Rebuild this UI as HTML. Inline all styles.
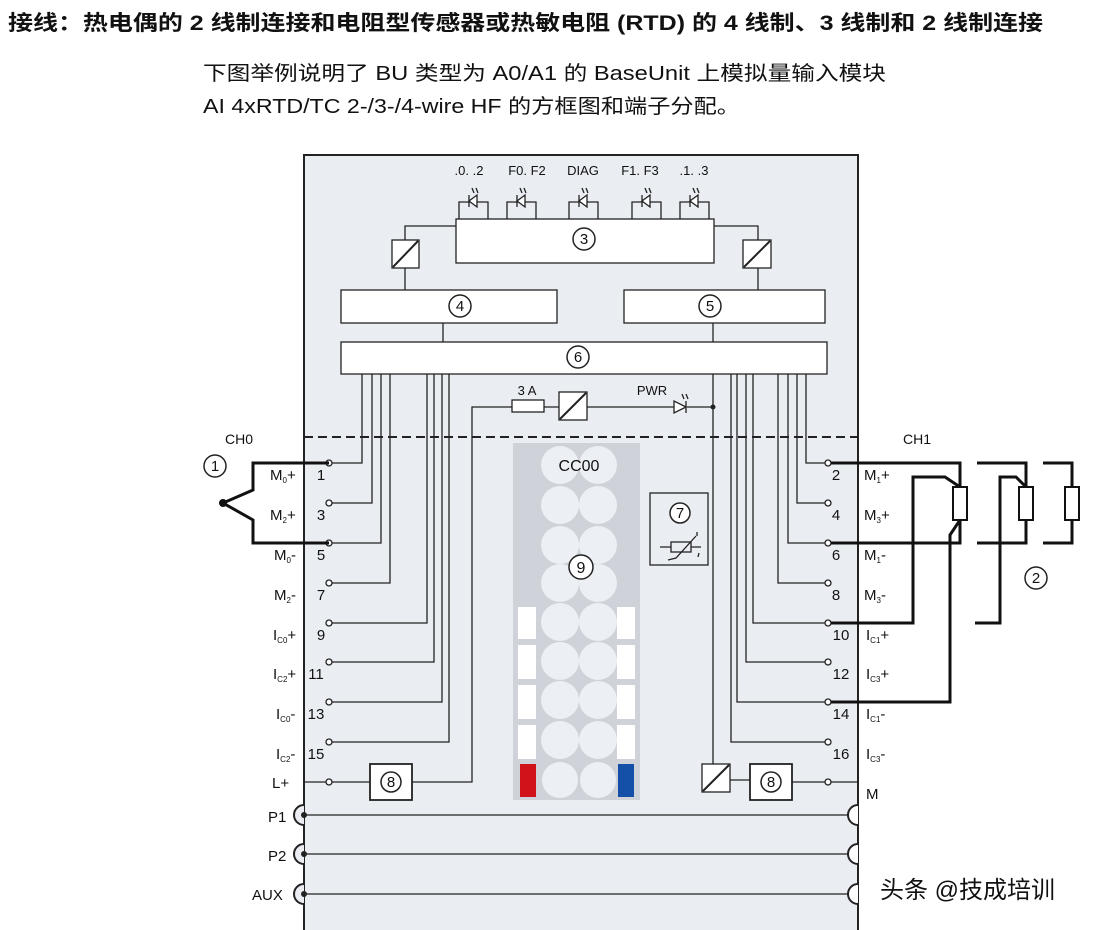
<!DOCTYPE html>
<html><head><meta charset="utf-8"><style>
html,body{margin:0;padding:0;background:#fff;}
svg{display:block;}
text{font-family:"Liberation Sans","Noto Sans CJK SC",sans-serif;fill:#111;}
</style></head><body>
<svg width="1108" height="930" viewBox="0 0 1108 930" xmlns="http://www.w3.org/2000/svg">
<rect width="1108" height="930" fill="#fff"/>
<text x="8" y="30" font-size="21" font-weight="bold" textLength="1035" lengthAdjust="spacingAndGlyphs">接线：热电偶的 2 线制连接和电阻型传感器或热敏电阻 (RTD) 的 4 线制、3 线制和 2 线制连接</text>
<text x="203" y="80" font-size="20" textLength="683" lengthAdjust="spacingAndGlyphs">下图举例说明了 BU 类型为 A0/A1 的 BaseUnit 上模拟量输入模块</text>
<text x="203" y="113" font-size="20" textLength="537" lengthAdjust="spacingAndGlyphs">AI 4xRTD/TC 2-/3-/4-wire HF 的方框图和端子分配。</text>

<rect x="304" y="155" width="554" height="780" fill="#eaeef3" stroke="#222" stroke-width="2"/>
<line x1="304" y1="437" x2="858" y2="437" stroke="#222" stroke-width="2" stroke-dasharray="9,5"/>
<g font-size="13" text-anchor="middle">
<text x="469" y="175">.0. .2</text><text x="527" y="175">F0. F2</text><text x="583" y="175">DIAG</text><text x="640" y="175">F1. F3</text><text x="694" y="175">.1. .3</text>
</g>
<g stroke="#222" stroke-width="1.3" fill="none">
<path d="M459 219V202h29v17 M507 219V202h29v17 M569 219V202h29v17 M632 219V202h29v17 M680 219V202h29v17"/>
<path d="M469 201l8-6v12z M469 195v12 M517 201l8-6v12z M517 195v12 M579 201l8-6v12z M579 195v12 M642 201l8-6v12z M642 195v12 M690 201l8-6v12z M690 195v12" fill="#fff"/>
<path d="M474 193l-2-5 M478 193l-2-5 M522 193l-2-5 M526 193l-2-5 M584 193l-2-5 M588 193l-2-5 M647 193l-2-5 M651 193l-2-5 M695 193l-2-5 M699 193l-2-5"/>
<rect x="456" y="219" width="258" height="44" fill="#fff"/>
<rect x="392" y="240" width="27" height="28" fill="#fff"/><line x1="393" y1="267" x2="418" y2="241" stroke-width="2"/>
<rect x="743" y="240" width="28" height="28" fill="#fff"/><line x1="744" y1="267" x2="770" y2="241" stroke-width="2"/>
<path d="M456 226H405V240 M405 268V290 M714 226H758V240 M758 268V290"/>
<rect x="341" y="290" width="216" height="33" fill="#fff"/>
<rect x="624" y="290" width="201" height="33" fill="#fff"/>
<rect x="341" y="342" width="486" height="32" fill="#fff"/>
<line x1="443" y1="323" x2="443" y2="342"/>
<line x1="713" y1="323" x2="713" y2="342"/>
<line x1="713" y1="374" x2="713" y2="764"/>
<path d="M362 374V463H332 M372 374V503H332 M381 374V543H332 M390 374V583H332 M427 374V623H332 M434 374V662H332 M442 374V702H332 M449 374V742H332"/>
<path d="M304 782H326 M332 782H370 M412 782H472V407H512 M544 407H559 M587 407H674 M687 407H713"/>
<rect x="512" y="400" width="32" height="12" fill="#fff"/>
<rect x="559" y="392" width="28" height="28" fill="#fff"/><line x1="560" y1="419" x2="586" y2="393" stroke-width="2"/>
<path d="M674 401v12l12-6z M686 401v12" fill="#fff"/>
<path d="M684 399l-2-5 M688 399l-2-5"/>
<rect x="370" y="764" width="42" height="36" fill="#fff" stroke-width="1.8"/>
<path d="M806 374V463H825 M797 374V503H825 M788 374V543H825 M778 374V583H825 M753 374V623H825 M746 374V662H825 M737 374V702H825 M731 374V742H825"/>
<rect x="702" y="764" width="28" height="28" fill="#fff"/><line x1="703" y1="791" x2="729" y2="765" stroke-width="2"/>
<path d="M730 780H750 M792 782H825 M831 782H858"/>
<rect x="750" y="764" width="42" height="36" fill="#fff" stroke-width="1.8"/>
<g fill="#fff">
<circle cx="329" cy="463" r="3"/><circle cx="329" cy="503" r="3"/><circle cx="329" cy="543" r="3"/><circle cx="329" cy="583" r="3"/><circle cx="329" cy="623" r="3"/><circle cx="329" cy="662" r="3"/><circle cx="329" cy="702" r="3"/><circle cx="329" cy="742" r="3"/><circle cx="329" cy="782" r="3"/>
<circle cx="828" cy="463" r="3"/><circle cx="828" cy="503" r="3"/><circle cx="828" cy="543" r="3"/><circle cx="828" cy="583" r="3"/><circle cx="828" cy="623" r="3"/><circle cx="828" cy="662" r="3"/><circle cx="828" cy="702" r="3"/><circle cx="828" cy="742" r="3"/><circle cx="828" cy="782" r="3"/>
</g>
<path d="M304 815H858 M304 854H858 M304 894H858"/>
</g>
<circle cx="713" cy="407" r="2.5" fill="#222"/>
<g stroke="#222" stroke-width="2" fill="#eaeef3">
<path d="M304 805a10 10 0 0 0 0 20 M304 844a10 10 0 0 0 0 20 M304 884a10 10 0 0 0 0 20"/>
<path d="M858 805a10 10 0 0 0 0 20 M858 844a10 10 0 0 0 0 20 M858 884a10 10 0 0 0 0 20" fill="#fff"/>
</g>
<g fill="#222"><circle cx="304" cy="815" r="3"/><circle cx="304" cy="854" r="3"/><circle cx="304" cy="894" r="3"/></g>
<rect x="513" y="443" width="127" height="357" fill="#cfd3d9"/>
<g fill="#eceff3">
<circle cx="560" cy="465" r="19"/><circle cx="598" cy="465" r="19"/>
<circle cx="560" cy="505" r="19"/><circle cx="598" cy="505" r="19"/>
<circle cx="560" cy="545" r="19"/><circle cx="598" cy="545" r="19"/>
<circle cx="560" cy="583" r="19"/><circle cx="598" cy="583" r="19"/>
<circle cx="560" cy="622" r="19"/><circle cx="598" cy="622" r="19"/>
<circle cx="560" cy="661" r="19"/><circle cx="598" cy="661" r="19"/>
<circle cx="560" cy="700" r="19"/><circle cx="598" cy="700" r="19"/>
<circle cx="560" cy="740" r="19"/><circle cx="598" cy="740" r="19"/>
<circle cx="560" cy="780" r="18"/><circle cx="598" cy="780" r="18"/>
</g>
<g fill="#fff">
<rect x="518" y="607" width="18" height="32"/><rect x="518" y="645" width="18" height="34"/><rect x="518" y="685" width="18" height="34"/><rect x="518" y="725" width="18" height="34"/>
<rect x="617" y="607" width="18" height="32"/><rect x="617" y="645" width="18" height="34"/><rect x="617" y="685" width="18" height="34"/><rect x="617" y="725" width="18" height="34"/>
</g>
<rect x="520" y="764" width="16" height="33" fill="#d0121b"/>
<rect x="618" y="764" width="16" height="33" fill="#1450a8"/>
<text x="579" y="471" font-size="16" text-anchor="middle">CC00</text>
<rect x="650" y="493" width="58" height="72" fill="#eaeef3" stroke="#222" stroke-width="1.3"/>
<g stroke="#222" stroke-width="1.3" fill="none">
<rect x="671" y="542" width="20" height="10"/><path d="M660 547h11 M691 547h10 M668 560l8-2 20-22"/><path d="M697 532v4 M699 553l-1 4"/>
</g>
<g fill="#fff" stroke="#222" stroke-width="1.5">
<circle cx="584" cy="239" r="11"/><circle cx="460" cy="306" r="11"/><circle cx="710" cy="306" r="11"/><circle cx="578" cy="357" r="11"/>
<circle cx="391" cy="782" r="10"/><circle cx="771" cy="782" r="10"/><circle cx="680" cy="513" r="10"/><circle cx="581" cy="567" r="12"/>
<circle cx="215" cy="466" r="11"/><circle cx="1036" cy="578" r="11"/>
</g>
<g font-size="15" text-anchor="middle">
<text x="584" y="244">3</text><text x="460" y="311">4</text><text x="710" y="311">5</text><text x="578" y="362">6</text>
<text x="391" y="787">8</text><text x="771" y="787">8</text><text x="680" y="518">7</text><text x="581" y="573" font-size="16">9</text>
<text x="215" y="471">1</text><text x="1036" y="583">2</text>
<text x="527" y="395" font-size="13">3 A</text><text x="652" y="395" font-size="13">PWR</text>
</g>
<text x="225" y="444" font-size="14">CH0</text>
<text x="903" y="444" font-size="14">CH1</text>
<g font-size="15">
<text x="270" y="480">M<tspan font-size="8" dy="3">0</tspan><tspan dy="-3">+</tspan></text>
<text x="270" y="520">M<tspan font-size="8" dy="3">2</tspan><tspan dy="-3">+</tspan></text>
<text x="274" y="560">M<tspan font-size="8" dy="3">0</tspan><tspan dy="-3">-</tspan></text>
<text x="274" y="600">M<tspan font-size="8" dy="3">2</tspan><tspan dy="-3">-</tspan></text>
<text x="273" y="640">I<tspan font-size="8" dy="3">C0</tspan><tspan dy="-3">+</tspan></text>
<text x="273" y="679">I<tspan font-size="8" dy="3">C2</tspan><tspan dy="-3">+</tspan></text>
<text x="276" y="719">I<tspan font-size="8" dy="3">C0</tspan><tspan dy="-3">-</tspan></text>
<text x="276" y="759">I<tspan font-size="8" dy="3">C2</tspan><tspan dy="-3">-</tspan></text>
<text x="272" y="788">L+</text>
<text x="268" y="822">P1</text><text x="268" y="861">P2</text><text x="252" y="900">AUX</text>
<g text-anchor="middle">
<text x="321" y="480">1</text><text x="321" y="520">3</text><text x="321" y="560">5</text><text x="321" y="600">7</text>
<text x="321" y="640">9</text><text x="316" y="679">11</text><text x="316" y="719">13</text><text x="316" y="759">15</text>
<text x="836" y="480">2</text><text x="836" y="520">4</text><text x="836" y="560">6</text><text x="836" y="600">8</text>
<text x="841" y="640">10</text><text x="841" y="679">12</text><text x="841" y="719">14</text><text x="841" y="759">16</text>
</g>
<text x="864" y="480">M<tspan font-size="8" dy="3">1</tspan><tspan dy="-3">+</tspan></text>
<text x="864" y="520">M<tspan font-size="8" dy="3">3</tspan><tspan dy="-3">+</tspan></text>
<text x="864" y="560">M<tspan font-size="8" dy="3">1</tspan><tspan dy="-3">-</tspan></text>
<text x="864" y="600">M<tspan font-size="8" dy="3">3</tspan><tspan dy="-3">-</tspan></text>
<text x="866" y="640">I<tspan font-size="8" dy="3">C1</tspan><tspan dy="-3">+</tspan></text>
<text x="866" y="679">I<tspan font-size="8" dy="3">C3</tspan><tspan dy="-3">+</tspan></text>
<text x="866" y="719">I<tspan font-size="8" dy="3">C1</tspan><tspan dy="-3">-</tspan></text>
<text x="866" y="759">I<tspan font-size="8" dy="3">C3</tspan><tspan dy="-3">-</tspan></text>
<text x="866" y="799">M</text>
</g>
<g stroke="#111" stroke-width="3" fill="none">
<path d="M329 463H253V490L223 503L253 520V543H329"/>
<path d="M831 463H960V487 M960 520V543H831"/>
<path d="M831 623H913V477H945L960 487"/>
<path d="M831 702H950V535L960 520"/>
<path d="M977 463H1026V487 M1026 520V543H977"/>
<path d="M975 623H1000V477H1016L1026 487"/>
<path d="M1043 463H1072V487 M1072 520V543H1043"/>
</g>
<g fill="#fff" stroke="#111" stroke-width="2">
<rect x="953" y="487" width="14" height="33"/><rect x="1019" y="487" width="14" height="33"/><rect x="1065" y="487" width="14" height="33"/>
</g>
<circle cx="223" cy="503" r="4" fill="#111"/>
<text x="880" y="898" font-size="24" fill="#222">头条 @技成培训</text>
</svg>
</body></html>
